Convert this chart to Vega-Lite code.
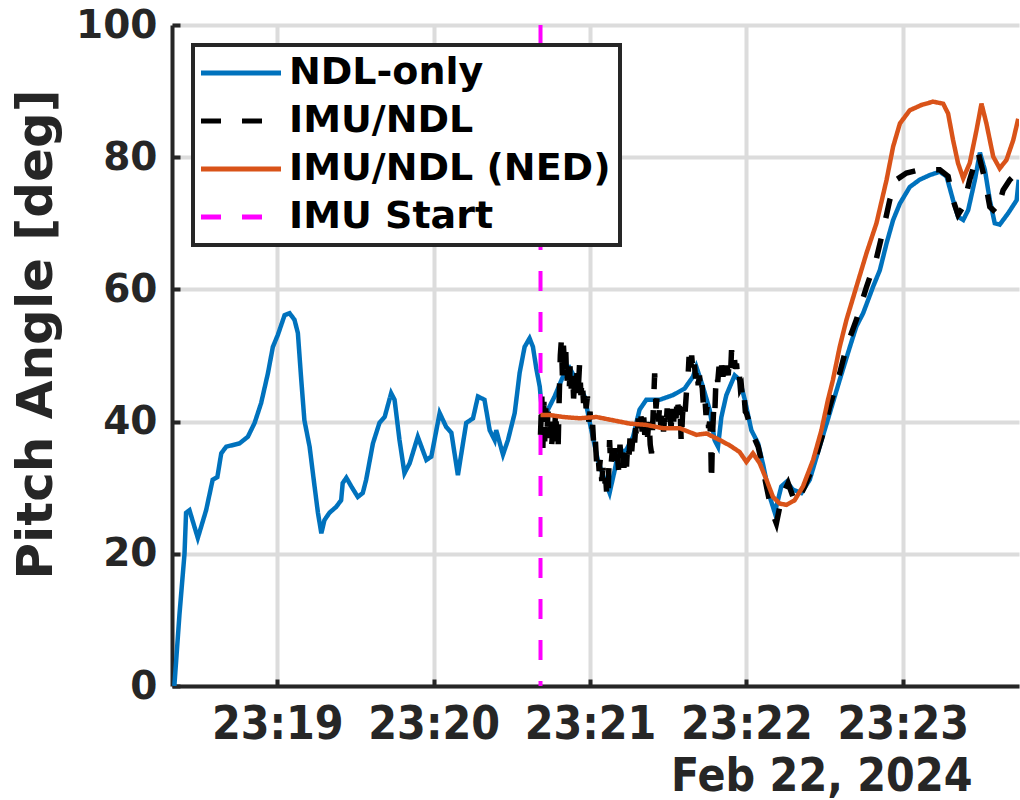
{
  "$schema": "https://vega.github.io/schema/vega-lite/v6.json",
  "autosize": {"type": "none"},
  "padding": {"left": 172, "top": 25, "right": 1, "bottom": 114},
  "width": 847,
  "height": 661,
  "background": "white",
  "datasets": {
    "pitch": [
      {"series":"NDL-only","sec":20.5,"pitch":0},{"series":"NDL-only","sec":22.5,"pitch":11},{"series":"NDL-only","sec":24.4,"pitch":20},{"series":"NDL-only","sec":25.0,"pitch":26.2},{"series":"NDL-only","sec":26.3,"pitch":26.6},{"series":"NDL-only","sec":29.5,"pitch":22.4},{"series":"NDL-only","sec":32.7,"pitch":26.6},{"series":"NDL-only","sec":35.2,"pitch":31.2},{"series":"NDL-only","sec":37.0,"pitch":31.6},{"series":"NDL-only","sec":38.5,"pitch":35.2},{"series":"NDL-only","sec":40.4,"pitch":36.2},{"series":"NDL-only","sec":45.5,"pitch":36.7},{"series":"NDL-only","sec":48.7,"pitch":37.7},{"series":"NDL-only","sec":51.3,"pitch":39.8},{"series":"NDL-only","sec":53.8,"pitch":42.8},{"series":"NDL-only","sec":56.4,"pitch":47.3},{"series":"NDL-only","sec":58.3,"pitch":51.3},{"series":"NDL-only","sec":60.2,"pitch":53.1},{"series":"NDL-only","sec":62.8,"pitch":56.1},{"series":"NDL-only","sec":64.7,"pitch":56.4},{"series":"NDL-only","sec":66.6,"pitch":55.4},{"series":"NDL-only","sec":67.9,"pitch":53.4},{"series":"NDL-only","sec":69.2,"pitch":46.3},{"series":"NDL-only","sec":70.4,"pitch":40.2},{"series":"NDL-only","sec":72.4,"pitch":36.2},{"series":"NDL-only","sec":74.3,"pitch":30.2},{"series":"NDL-only","sec":75.6,"pitch":26.2},{"series":"NDL-only","sec":76.9,"pitch":23.1},{"series":"NDL-only","sec":78.1,"pitch":25.1},{"series":"NDL-only","sec":80.0,"pitch":26.2},{"series":"NDL-only","sec":82.6,"pitch":27.1},{"series":"NDL-only","sec":84.5,"pitch":28.1},{"series":"NDL-only","sec":85.1,"pitch":30.7},{"series":"NDL-only","sec":86.5,"pitch":31.5},{"series":"NDL-only","sec":88.4,"pitch":30.2},{"series":"NDL-only","sec":90.9,"pitch":28.6},{"series":"NDL-only","sec":92.8,"pitch":29.2},{"series":"NDL-only","sec":94.1,"pitch":31.2},{"series":"NDL-only","sec":96.7,"pitch":36.7},{"series":"NDL-only","sec":99.2,"pitch":39.8},{"series":"NDL-only","sec":101.2,"pitch":40.7},{"series":"NDL-only","sec":103.7,"pitch":44.3},{"series":"NDL-only","sec":105.0,"pitch":43.3},{"series":"NDL-only","sec":106.9,"pitch":37.2},{"series":"NDL-only","sec":108.8,"pitch":32.2},{"series":"NDL-only","sec":110.8,"pitch":33.7},{"series":"NDL-only","sec":113.9,"pitch":37.7},{"series":"NDL-only","sec":117.2,"pitch":34.2},{"series":"NDL-only","sec":119.1,"pitch":34.7},{"series":"NDL-only","sec":122.3,"pitch":41.3},{"series":"NDL-only","sec":124.8,"pitch":39.2},{"series":"NDL-only","sec":126.8,"pitch":38.3},{"series":"NDL-only","sec":129.3,"pitch":31.9},{"series":"NDL-only","sec":132.5,"pitch":39.8},{"series":"NDL-only","sec":135.1,"pitch":40.5},{"series":"NDL-only","sec":137.0,"pitch":43.8},{"series":"NDL-only","sec":139.5,"pitch":43.3},{"series":"NDL-only","sec":141.5,"pitch":38.7},{"series":"NDL-only","sec":143.4,"pitch":37.2},{"series":"NDL-only","sec":144.0,"pitch":38.7},{"series":"NDL-only","sec":146.6,"pitch":35.0},{"series":"NDL-only","sec":148.5,"pitch":37.2},{"series":"NDL-only","sec":151.1,"pitch":41.3},{"series":"NDL-only","sec":153.0,"pitch":47.4},{"series":"NDL-only","sec":154.9,"pitch":51.3},{"series":"NDL-only","sec":156.8,"pitch":52.6},{"series":"NDL-only","sec":158.1,"pitch":51.3},{"series":"NDL-only","sec":159.4,"pitch":48.0},{"series":"NDL-only","sec":160.7,"pitch":45.3},{"series":"NDL-only","sec":161.3,"pitch":42.8},{"series":"NDL-only","sec":163.2,"pitch":41.3},{"series":"NDL-only","sec":166.4,"pitch":43.8},{"series":"NDL-only","sec":169.6,"pitch":46.8},{"series":"NDL-only","sec":172.2,"pitch":48.1},{"series":"NDL-only","sec":174.7,"pitch":46.3},{"series":"NDL-only","sec":177.9,"pitch":43.8},{"series":"NDL-only","sec":180.5,"pitch":38.7},{"series":"NDL-only","sec":183.0,"pitch":34.2},{"series":"NDL-only","sec":185.6,"pitch":31.2},{"series":"NDL-only","sec":187.5,"pitch":29.2},{"series":"NDL-only","sec":189.5,"pitch":32.7},{"series":"NDL-only","sec":190.7,"pitch":35.2},{"series":"NDL-only","sec":193.9,"pitch":35.7},{"series":"NDL-only","sec":196.5,"pitch":37.7},{"series":"NDL-only","sec":199.0,"pitch":41.8},{"series":"NDL-only","sec":201.6,"pitch":43.3},{"series":"NDL-only","sec":206.7,"pitch":43.3},{"series":"NDL-only","sec":211.8,"pitch":44.0},{"series":"NDL-only","sec":216.3,"pitch":45.0},{"series":"NDL-only","sec":219.5,"pitch":46.8},{"series":"NDL-only","sec":220.8,"pitch":48.3},{"series":"NDL-only","sec":223.3,"pitch":45.3},{"series":"NDL-only","sec":225.9,"pitch":41.8},{"series":"NDL-only","sec":227.8,"pitch":37.2},{"series":"NDL-only","sec":229.1,"pitch":36.2},{"series":"NDL-only","sec":230.4,"pitch":40.7},{"series":"NDL-only","sec":232.3,"pitch":44.0},{"series":"NDL-only","sec":235.5,"pitch":47.0},{"series":"NDL-only","sec":237.4,"pitch":46.3},{"series":"NDL-only","sec":239.4,"pitch":43.3},{"series":"NDL-only","sec":241.9,"pitch":38.7},{"series":"NDL-only","sec":244.5,"pitch":36.7},{"series":"NDL-only","sec":246.4,"pitch":33.5},{"series":"NDL-only","sec":249.0,"pitch":28.6},{"series":"NDL-only","sec":250.9,"pitch":26.2},{"series":"NDL-only","sec":253.4,"pitch":30.2},{"series":"NDL-only","sec":255.4,"pitch":30.9},{"series":"NDL-only","sec":257.9,"pitch":29.7},{"series":"NDL-only","sec":261.1,"pitch":29.2},{"series":"NDL-only","sec":264.3,"pitch":31.2},{"series":"NDL-only","sec":268.1,"pitch":36.2},{"series":"NDL-only","sec":272.0,"pitch":41.3},{"series":"NDL-only","sec":275.8,"pitch":46.3},{"series":"NDL-only","sec":279.7,"pitch":51.3},{"series":"NDL-only","sec":282.2,"pitch":54.4},{"series":"NDL-only","sec":284.8,"pitch":56.4},{"series":"NDL-only","sec":288.6,"pitch":60.4},{"series":"NDL-only","sec":291.2,"pitch":62.9},{"series":"NDL-only","sec":293.8,"pitch":67.0},{"series":"NDL-only","sec":296.3,"pitch":70.5},{"series":"NDL-only","sec":298.9,"pitch":73.0},{"series":"NDL-only","sec":302.7,"pitch":75.5},{"series":"NDL-only","sec":306.5,"pitch":76.6},{"series":"NDL-only","sec":310.4,"pitch":77.3},{"series":"NDL-only","sec":314.2,"pitch":77.8},{"series":"NDL-only","sec":316.8,"pitch":77.1},{"series":"NDL-only","sec":319.3,"pitch":73.5},{"series":"NDL-only","sec":321.2,"pitch":71.0},{"series":"NDL-only","sec":323.2,"pitch":70.5},{"series":"NDL-only","sec":325.1,"pitch":72.0},{"series":"NDL-only","sec":327.7,"pitch":76.6},{"series":"NDL-only","sec":329.6,"pitch":80.7},{"series":"NDL-only","sec":331.5,"pitch":78.1},{"series":"NDL-only","sec":333.4,"pitch":73.5},{"series":"NDL-only","sec":335.3,"pitch":70.0},{"series":"NDL-only","sec":337.2,"pitch":69.8},{"series":"NDL-only","sec":340.4,"pitch":71.5},{"series":"NDL-only","sec":343.7,"pitch":73.5},{"series":"NDL-only","sec":344.5,"pitch":76.6},
      {"series":"IMU/NDL","sec":161.0,"pitch":38},{"series":"IMU/NDL","sec":161.5,"pitch":44},{"series":"IMU/NDL","sec":161.9,"pitch":36},{"series":"IMU/NDL","sec":162.3,"pitch":43},{"series":"IMU/NDL","sec":162.6,"pitch":37},{"series":"IMU/NDL","sec":163.0,"pitch":42},{"series":"IMU/NDL","sec":163.4,"pitch":38},{"series":"IMU/NDL","sec":163.9,"pitch":41.5},{"series":"IMU/NDL","sec":164.3,"pitch":37.5},{"series":"IMU/NDL","sec":164.8,"pitch":40},{"series":"IMU/NDL","sec":165.3,"pitch":36.5},{"series":"IMU/NDL","sec":165.8,"pitch":39.5},{"series":"IMU/NDL","sec":166.3,"pitch":37},{"series":"IMU/NDL","sec":166.8,"pitch":42},{"series":"IMU/NDL","sec":167.2,"pitch":38},{"series":"IMU/NDL","sec":167.7,"pitch":35.2},{"series":"IMU/NDL","sec":168.2,"pitch":44},
      {"series":"IMU/NDL","sec":168.6,"pitch":50},{"series":"IMU/NDL","sec":169.0,"pitch":52.3},{"series":"IMU/NDL","sec":169.4,"pitch":47},{"series":"IMU/NDL","sec":169.8,"pitch":51.5},{"series":"IMU/NDL","sec":170.3,"pitch":48},{"series":"IMU/NDL","sec":170.7,"pitch":50.5},{"series":"IMU/NDL","sec":171.1,"pitch":45.5},{"series":"IMU/NDL","sec":171.5,"pitch":48},{"series":"IMU/NDL","sec":172.0,"pitch":44.5},{"series":"IMU/NDL","sec":172.4,"pitch":48.8},{"series":"IMU/NDL","sec":172.8,"pitch":45},{"series":"IMU/NDL","sec":173.3,"pitch":47.5},{"series":"IMU/NDL","sec":173.7,"pitch":43.5},{"series":"IMU/NDL","sec":174.1,"pitch":46},{"series":"IMU/NDL","sec":174.6,"pitch":44},{"series":"IMU/NDL","sec":175.0,"pitch":47.5},{"series":"IMU/NDL","sec":175.5,"pitch":45},{"series":"IMU/NDL","sec":176.0,"pitch":48.8},{"series":"IMU/NDL","sec":176.5,"pitch":44},{"series":"IMU/NDL","sec":177.0,"pitch":46.5},
      {"series":"IMU/NDL","sec":177.5,"pitch":42.8},{"series":"IMU/NDL","sec":178.0,"pitch":45},{"series":"IMU/NDL","sec":178.5,"pitch":42},{"series":"IMU/NDL","sec":179.0,"pitch":43.8},{"series":"IMU/NDL","sec":179.5,"pitch":40},{"series":"IMU/NDL","sec":180.0,"pitch":41.5},{"series":"IMU/NDL","sec":180.5,"pitch":38},{"series":"IMU/NDL","sec":181.0,"pitch":39.5},{"series":"IMU/NDL","sec":181.5,"pitch":36},{"series":"IMU/NDL","sec":182.0,"pitch":37.5},{"series":"IMU/NDL","sec":182.5,"pitch":34},{"series":"IMU/NDL","sec":183.0,"pitch":35.5},{"series":"IMU/NDL","sec":183.5,"pitch":32.5},{"series":"IMU/NDL","sec":184.0,"pitch":34.5},{"series":"IMU/NDL","sec":184.5,"pitch":31},{"series":"IMU/NDL","sec":185.0,"pitch":33},{"series":"IMU/NDL","sec":185.5,"pitch":30},{"series":"IMU/NDL","sec":186.0,"pitch":31.5},{"series":"IMU/NDL","sec":186.5,"pitch":28.5},{"series":"IMU/NDL","sec":186.9,"pitch":28.1},
      {"series":"IMU/NDL","sec":187.5,"pitch":37.2},{"series":"IMU/NDL","sec":188.0,"pitch":33},{"series":"IMU/NDL","sec":188.5,"pitch":35.5},{"series":"IMU/NDL","sec":189.0,"pitch":32.5},{"series":"IMU/NDL","sec":189.5,"pitch":36},{"series":"IMU/NDL","sec":190.0,"pitch":33},{"series":"IMU/NDL","sec":190.5,"pitch":35},{"series":"IMU/NDL","sec":191.0,"pitch":32.5},{"series":"IMU/NDL","sec":191.5,"pitch":36.5},{"series":"IMU/NDL","sec":192.0,"pitch":34},{"series":"IMU/NDL","sec":192.5,"pitch":36},{"series":"IMU/NDL","sec":193.0,"pitch":33},{"series":"IMU/NDL","sec":193.5,"pitch":35.5},{"series":"IMU/NDL","sec":194.0,"pitch":33.2},{"series":"IMU/NDL","sec":194.5,"pitch":37},{"series":"IMU/NDL","sec":195.0,"pitch":35},{"series":"IMU/NDL","sec":195.5,"pitch":38.7},{"series":"IMU/NDL","sec":196.0,"pitch":35.5},{"series":"IMU/NDL","sec":196.5,"pitch":38},{"series":"IMU/NDL","sec":197.0,"pitch":36.2},{"series":"IMU/NDL","sec":197.5,"pitch":39},{"series":"IMU/NDL","sec":198.0,"pitch":37},{"series":"IMU/NDL","sec":198.5,"pitch":40.5},{"series":"IMU/NDL","sec":199.0,"pitch":38.5},{"series":"IMU/NDL","sec":199.5,"pitch":41},{"series":"IMU/NDL","sec":200.0,"pitch":38.5},{"series":"IMU/NDL","sec":200.5,"pitch":41.5},{"series":"IMU/NDL","sec":201.0,"pitch":38},{"series":"IMU/NDL","sec":201.6,"pitch":40},{"series":"IMU/NDL","sec":202.1,"pitch":37.7},
      {"series":"IMU/NDL","sec":202.6,"pitch":40.5},{"series":"IMU/NDL","sec":203.1,"pitch":36.5},{"series":"IMU/NDL","sec":203.6,"pitch":35.2},{"series":"IMU/NDL","sec":204.1,"pitch":40},{"series":"IMU/NDL","sec":204.8,"pitch":47.3},{"series":"IMU/NDL","sec":205.3,"pitch":42},{"series":"IMU/NDL","sec":205.8,"pitch":44},{"series":"IMU/NDL","sec":206.3,"pitch":40},{"series":"IMU/NDL","sec":206.7,"pitch":42.5},{"series":"IMU/NDL","sec":207.2,"pitch":39},{"series":"IMU/NDL","sec":207.7,"pitch":41.5},{"series":"IMU/NDL","sec":208.2,"pitch":38.5},{"series":"IMU/NDL","sec":208.6,"pitch":40.5},{"series":"IMU/NDL","sec":209.1,"pitch":38.7},{"series":"IMU/NDL","sec":209.6,"pitch":42},{"series":"IMU/NDL","sec":210.1,"pitch":39.5},{"series":"IMU/NDL","sec":210.6,"pitch":41.5},{"series":"IMU/NDL","sec":211.1,"pitch":39},{"series":"IMU/NDL","sec":211.6,"pitch":42.5},{"series":"IMU/NDL","sec":212.1,"pitch":40},{"series":"IMU/NDL","sec":212.5,"pitch":43},{"series":"IMU/NDL","sec":213.0,"pitch":40.5},{"series":"IMU/NDL","sec":213.5,"pitch":44},{"series":"IMU/NDL","sec":214.0,"pitch":41},{"series":"IMU/NDL","sec":214.5,"pitch":43},{"series":"IMU/NDL","sec":215.0,"pitch":36.7},{"series":"IMU/NDL","sec":215.5,"pitch":41},
      {"series":"IMU/NDL","sec":216.0,"pitch":43.5},{"series":"IMU/NDL","sec":216.5,"pitch":41.5},{"series":"IMU/NDL","sec":217.0,"pitch":44.5},{"series":"IMU/NDL","sec":217.5,"pitch":46},{"series":"IMU/NDL","sec":218.0,"pitch":49.8},{"series":"IMU/NDL","sec":218.5,"pitch":47},{"series":"IMU/NDL","sec":219.0,"pitch":50},{"series":"IMU/NDL","sec":219.5,"pitch":47.5},{"series":"IMU/NDL","sec":220.0,"pitch":49},{"series":"IMU/NDL","sec":220.5,"pitch":46.5},{"series":"IMU/NDL","sec":221.0,"pitch":48.3},{"series":"IMU/NDL","sec":221.5,"pitch":45.5},{"series":"IMU/NDL","sec":222.0,"pitch":47},{"series":"IMU/NDL","sec":222.5,"pitch":44},{"series":"IMU/NDL","sec":223.0,"pitch":45.5},{"series":"IMU/NDL","sec":223.5,"pitch":42.5},{"series":"IMU/NDL","sec":224.0,"pitch":44},{"series":"IMU/NDL","sec":224.5,"pitch":41},{"series":"IMU/NDL","sec":225.0,"pitch":42.5},{"series":"IMU/NDL","sec":225.5,"pitch":39},{"series":"IMU/NDL","sec":225.9,"pitch":40},{"series":"IMU/NDL","sec":226.3,"pitch":37.7},{"series":"IMU/NDL","sec":226.6,"pitch":30.7},{"series":"IMU/NDL","sec":227.0,"pitch":38},
      {"series":"IMU/NDL","sec":227.4,"pitch":41.5},{"series":"IMU/NDL","sec":227.8,"pitch":40.2},{"series":"IMU/NDL","sec":228.2,"pitch":45},{"series":"IMU/NDL","sec":228.6,"pitch":47.3},{"series":"IMU/NDL","sec":229.0,"pitch":46},{"series":"IMU/NDL","sec":229.5,"pitch":48.3},{"series":"IMU/NDL","sec":230.0,"pitch":46.5},{"series":"IMU/NDL","sec":230.5,"pitch":48.5},{"series":"IMU/NDL","sec":231.0,"pitch":46.8},{"series":"IMU/NDL","sec":231.5,"pitch":48},{"series":"IMU/NDL","sec":232.0,"pitch":46.5},{"series":"IMU/NDL","sec":232.5,"pitch":48.5},{"series":"IMU/NDL","sec":233.0,"pitch":47},{"series":"IMU/NDL","sec":233.5,"pitch":49.5},{"series":"IMU/NDL","sec":234.0,"pitch":48},{"series":"IMU/NDL","sec":234.3,"pitch":50.8},{"series":"IMU/NDL","sec":234.8,"pitch":49},{"series":"IMU/NDL","sec":235.3,"pitch":50},{"series":"IMU/NDL","sec":235.8,"pitch":48},{"series":"IMU/NDL","sec":236.2,"pitch":48.8},{"series":"IMU/NDL","sec":236.7,"pitch":46.5},{"series":"IMU/NDL","sec":237.2,"pitch":47.5},{"series":"IMU/NDL","sec":237.7,"pitch":45},{"series":"IMU/NDL","sec":238.1,"pitch":45.3},{"series":"IMU/NDL","sec":238.6,"pitch":43},{"series":"IMU/NDL","sec":239.1,"pitch":44},{"series":"IMU/NDL","sec":239.6,"pitch":41.5},{"series":"IMU/NDL","sec":240.0,"pitch":41.3},
      {"series":"IMU/NDL","sec":242.5,"pitch":38.0},{"series":"IMU/NDL","sec":244.5,"pitch":36.2},{"series":"IMU/NDL","sec":245.1,"pitch":35.2},{"series":"IMU/NDL","sec":247.7,"pitch":30.2},{"series":"IMU/NDL","sec":249.6,"pitch":26.6},{"series":"IMU/NDL","sec":251.5,"pitch":24.6},{"series":"IMU/NDL","sec":252.8,"pitch":27.1},{"series":"IMU/NDL","sec":254.1,"pitch":29.1},{"series":"IMU/NDL","sec":256.0,"pitch":30.7},{"series":"IMU/NDL","sec":257.9,"pitch":28.6},{"series":"IMU/NDL","sec":259.2,"pitch":27.6},{"series":"IMU/NDL","sec":262.4,"pitch":30.2},{"series":"IMU/NDL","sec":265.6,"pitch":33.2},{"series":"IMU/NDL","sec":269.4,"pitch":38.2},{"series":"IMU/NDL","sec":272.0,"pitch":42.3},{"series":"IMU/NDL","sec":275.8,"pitch":47.3},{"series":"IMU/NDL","sec":278.4,"pitch":51.3},{"series":"IMU/NDL","sec":282.2,"pitch":55.4},{"series":"IMU/NDL","sec":286.1,"pitch":60.4},{"series":"IMU/NDL","sec":289.9,"pitch":64.7},{"series":"IMU/NDL","sec":292.5,"pitch":69.0},{"series":"IMU/NDL","sec":295.0,"pitch":73.5},{"series":"IMU/NDL","sec":297.6,"pitch":76.6},{"series":"IMU/NDL","sec":301.4,"pitch":77.6},{"series":"IMU/NDL","sec":306.5,"pitch":78.1},{"series":"IMU/NDL","sec":310.4,"pitch":78.1},{"series":"IMU/NDL","sec":314.2,"pitch":78.1},{"series":"IMU/NDL","sec":317.4,"pitch":77.1},{"series":"IMU/NDL","sec":319.3,"pitch":73.5},{"series":"IMU/NDL","sec":321.2,"pitch":71.3},{"series":"IMU/NDL","sec":323.2,"pitch":72.5},{"series":"IMU/NDL","sec":325.7,"pitch":76.6},{"series":"IMU/NDL","sec":328.9,"pitch":80.8},{"series":"IMU/NDL","sec":331.5,"pitch":76.6},{"series":"IMU/NDL","sec":333.4,"pitch":72.5},{"series":"IMU/NDL","sec":336.0,"pitch":71.5},{"series":"IMU/NDL","sec":338.5,"pitch":75.0},{"series":"IMU/NDL","sec":341.1,"pitch":76.6},{"series":"IMU/NDL","sec":343.7,"pitch":77.6},
      {"series":"IMU/NDL (NED)","sec":161.0,"pitch":41.0},{"series":"IMU/NDL (NED)","sec":164.5,"pitch":41.0},{"series":"IMU/NDL (NED)","sec":169.6,"pitch":40.7},{"series":"IMU/NDL (NED)","sec":176.0,"pitch":40.5},{"series":"IMU/NDL (NED)","sec":182.4,"pitch":40.7},{"series":"IMU/NDL (NED)","sec":188.8,"pitch":40.2},{"series":"IMU/NDL (NED)","sec":195.2,"pitch":39.7},{"series":"IMU/NDL (NED)","sec":201.6,"pitch":39.5},{"series":"IMU/NDL (NED)","sec":208.0,"pitch":39.0},{"series":"IMU/NDL (NED)","sec":214.4,"pitch":39.0},{"series":"IMU/NDL (NED)","sec":220.8,"pitch":38.0},{"series":"IMU/NDL (NED)","sec":224.7,"pitch":38.2},{"series":"IMU/NDL (NED)","sec":229.8,"pitch":37.2},{"series":"IMU/NDL (NED)","sec":233.6,"pitch":36.4},{"series":"IMU/NDL (NED)","sec":237.4,"pitch":35.4},{"series":"IMU/NDL (NED)","sec":240.0,"pitch":33.9},{"series":"IMU/NDL (NED)","sec":242.5,"pitch":35.2},{"series":"IMU/NDL (NED)","sec":245.1,"pitch":33.7},{"series":"IMU/NDL (NED)","sec":247.7,"pitch":31.2},{"series":"IMU/NDL (NED)","sec":250.2,"pitch":28.6},{"series":"IMU/NDL (NED)","sec":252.8,"pitch":27.6},{"series":"IMU/NDL (NED)","sec":255.4,"pitch":27.4},{"series":"IMU/NDL (NED)","sec":258.5,"pitch":28.1},{"series":"IMU/NDL (NED)","sec":261.7,"pitch":30.2},{"series":"IMU/NDL (NED)","sec":265.6,"pitch":34.2},{"series":"IMU/NDL (NED)","sec":268.8,"pitch":38.7},{"series":"IMU/NDL (NED)","sec":271.3,"pitch":43.3},{"series":"IMU/NDL (NED)","sec":273.2,"pitch":46.3},{"series":"IMU/NDL (NED)","sec":275.8,"pitch":51.3},{"series":"IMU/NDL (NED)","sec":278.4,"pitch":55.4},{"series":"IMU/NDL (NED)","sec":282.2,"pitch":60.4},{"series":"IMU/NDL (NED)","sec":286.1,"pitch":65.5},{"series":"IMU/NDL (NED)","sec":289.9,"pitch":70.0},{"series":"IMU/NDL (NED)","sec":293.8,"pitch":76.6},{"series":"IMU/NDL (NED)","sec":296.3,"pitch":81.6},{"series":"IMU/NDL (NED)","sec":298.9,"pitch":85.1},{"series":"IMU/NDL (NED)","sec":302.7,"pitch":87.1},{"series":"IMU/NDL (NED)","sec":307.2,"pitch":87.9},{"series":"IMU/NDL (NED)","sec":311.6,"pitch":88.4},{"series":"IMU/NDL (NED)","sec":315.5,"pitch":88.1},{"series":"IMU/NDL (NED)","sec":317.4,"pitch":86.6},{"series":"IMU/NDL (NED)","sec":319.3,"pitch":82.6},{"series":"IMU/NDL (NED)","sec":321.2,"pitch":79.1},{"series":"IMU/NDL (NED)","sec":323.2,"pitch":76.8},{"series":"IMU/NDL (NED)","sec":325.7,"pitch":79.1},{"series":"IMU/NDL (NED)","sec":328.3,"pitch":84.1},{"series":"IMU/NDL (NED)","sec":330.2,"pitch":88.1},{"series":"IMU/NDL (NED)","sec":332.1,"pitch":85.1},{"series":"IMU/NDL (NED)","sec":334.7,"pitch":80.1},{"series":"IMU/NDL (NED)","sec":337.2,"pitch":78.3},{"series":"IMU/NDL (NED)","sec":339.8,"pitch":79.6},{"series":"IMU/NDL (NED)","sec":342.4,"pitch":82.6},{"series":"IMU/NDL (NED)","sec":344.3,"pitch":85.8}
    ],
    "start": [{"series": "IMU Start", "sec": 161.0}]
  },
  "encoding": {
    "x": {
      "field": "sec", "type": "quantitative",
      "scale": {"domain": [19.6, 344.6], "nice": false, "zero": false},
      "axis": {
        "values": [60, 120, 180, 240, 300],
        "labelExpr": "'23:' + (18 + round(datum.value / 60))",
        "title": "Feb 22, 2024",
        "titleX": 800, "titleY": 104, "titleAlign": "right", "titleBaseline": "alphabetic", "titleAnchor": null,
        "titleFont": "DejaVu Sans Condensed, Liberation Sans Narrow, DejaVu Sans", "titleFontSize": 46, "titleFontWeight": "bold", "titleColor": "#262626",
        "labelFont": "DejaVu Sans Condensed, Liberation Sans Narrow, DejaVu Sans", "labelFontSize": 46, "labelFontWeight": "bold", "labelColor": "#262626",
        "labelPadding": 23, "labelBaseline": "top", "labelFlush": false, "labelOverlap": false,
        "tickSize": -7
      }
    },
    "y": {
      "field": "pitch", "type": "quantitative",
      "scale": {"domain": [0, 100], "nice": false},
      "axis": {
        "values": [0, 20, 40, 60, 80, 100],
        "title": "Pitch Angle [deg]",
        "titleFont": "DejaVu Sans", "titleFontSize": 50, "titleFontWeight": "bold", "titleColor": "#262626",
        "titlePadding": 14, "titleY": 309,
        "labelFont": "DejaVu Sans", "labelFontSize": 39, "labelFontWeight": "bold", "labelColor": "#262626",
        "labelPadding": 23, "labelFlush": false, "labelOverlap": false,
        "tickSize": -8
      }
    },
    "color": {
      "field": "series", "type": "nominal",
      "scale": {"domain": ["NDL-only", "IMU/NDL", "IMU/NDL (NED)", "IMU Start"], "range": ["#0072BD", "#000000", "#D95319", "#FF00FF"]},
      "legend": {
        "title": null, "orient": "none", "legendX": 21, "legendY": 20,
        "padding": 9, "rowPadding": 10,
        "symbolType": "M-4,0H4", "symbolSize": 400, "symbolStrokeWidth": 5, "symbolOffset": 20,
        "labelOffset": 29, "labelLimit": 0, "labelFont": "DejaVu Sans", "labelFontSize": 38, "labelFontWeight": "bold", "labelColor": "#000000",
        "strokeColor": "#262626", "fillColor": "white",
        "encode": {"legend": {"update": {"strokeWidth": {"value": 4}}}}
      }
    },
    "strokeDash": {
      "field": "series", "type": "nominal",
      "scale": {"domain": ["NDL-only", "IMU/NDL", "IMU/NDL (NED)", "IMU Start"], "range": [[1, 0], [20, 21], [1, 0], [20, 21]]},
      "legend": {
        "title": null, "orient": "none", "legendX": 21, "legendY": 20,
        "padding": 9, "rowPadding": 10,
        "symbolType": "M-4,0H4", "symbolSize": 400, "symbolStrokeWidth": 5, "symbolOffset": 20,
        "labelOffset": 29, "labelLimit": 0, "labelFont": "DejaVu Sans", "labelFontSize": 38, "labelFontWeight": "bold", "labelColor": "#000000",
        "strokeColor": "#262626", "fillColor": "white",
        "encode": {"legend": {"update": {"strokeWidth": {"value": 4}}}}
      }
    }
  },
  "layer": [
    {"data": {"name": "pitch"}, "transform": [{"filter": "datum.series === 'NDL-only'"}], "mark": {"type": "line", "strokeWidth": 4.5, "clip": true}},
    {"data": {"name": "pitch"}, "transform": [{"filter": "datum.series === 'IMU/NDL'"}], "mark": {"type": "line", "strokeWidth": 5.5, "clip": true}},
    {"data": {"name": "start"}, "mark": {"type": "rule", "strokeWidth": 4}, "encoding": {"y": null}},
    {"data": {"name": "pitch"}, "transform": [{"filter": "datum.series === 'IMU/NDL (NED)'"}], "mark": {"type": "line", "strokeWidth": 4.5, "clip": true}}
  ],
  "config": {
    "view": {"stroke": null},
    "axis": {
      "domainColor": "#262626", "domainWidth": 4,
      "tickColor": "#262626", "tickWidth": 4,
      "gridColor": "#dcdcdc", "gridWidth": 4, "grid": true
    }
  }
}
